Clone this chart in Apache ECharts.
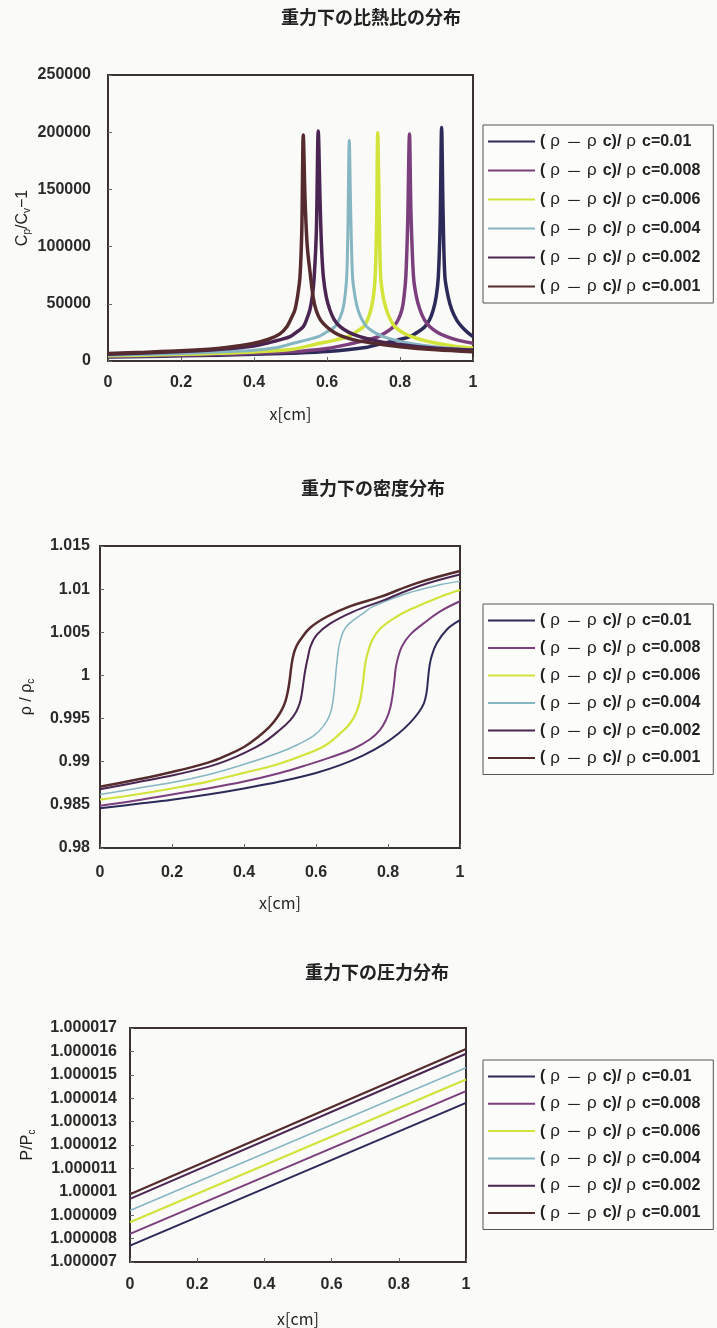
<!DOCTYPE html>
<html>
<head>
<meta charset="utf-8">
<script src="https://cdn.jsdelivr.net/npm/echarts/dist/echarts.min.js"></script>
<style>
  html, body { margin: 0; padding: 0; background: #fafaf8; }
  #chart { width: 717px; height: 1328px; }
</style>
</head>
<body>
<div id="chart"></div>
<script>
// Series labels, one per density offset
const legendNames = [
  '(ρ－ρc)/ρc=0.01',
  '(ρ－ρc)/ρc=0.008',
  '(ρ－ρc)/ρc=0.006',
  '(ρ－ρc)/ρc=0.004',
  '(ρ－ρc)/ρc=0.002',
  '(ρ－ρc)/ρc=0.001'
];

const chartTitles = ['重力下の比熱比の分布', '重力下の密度分布', '重力下の圧力分布'];

// Cp/Cv - 1 along the cell height, [x(cm), value]
const heat010 = [[0,3600],[0.1,4000],[0.2,4500],[0.3,5100],[0.4,5800],[0.5,6800],[0.6,8200],[0.7,11500],[0.754,15500],[0.795,18500],[0.827,21300],[0.85,25500],[0.868,30000],[0.881,36000],[0.891,44600],[0.899,56000],[0.905,73700],[0.91,120000],[0.914,204000],[0.918,130000],[0.923,73700],[0.932,56000],[0.942,44600],[0.955,36000],[0.969,30000],[0.985,25000],[1,21300]];
const heat008 = [[0,4000],[0.1,4500],[0.2,5100],[0.3,5800],[0.4,6700],[0.5,8000],[0.6,11000],[0.672,15500],[0.71,18500],[0.741,21300],[0.764,25500],[0.782,30000],[0.795,36000],[0.805,44600],[0.811,56000],[0.816,73700],[0.821,120000],[0.826,198400],[0.83,130000],[0.837,73700],[0.845,56000],[0.855,44600],[0.867,36000],[0.882,30000],[0.903,25000],[0.928,21300],[0.96,18000],[1,15500]];
const heat006 = [[0,4500],[0.1,5100],[0.2,5800],[0.3,6700],[0.4,7900],[0.5,10000],[0.581,15500],[0.625,18500],[0.658,21300],[0.68,25500],[0.7,30000],[0.711,36000],[0.72,44600],[0.727,56000],[0.732,73700],[0.736,120000],[0.739,199500],[0.743,130000],[0.747,73700],[0.754,56000],[0.763,44600],[0.774,36000],[0.786,30000],[0.807,25000],[0.832,21300],[0.865,18000],[0.9,15500],[0.95,13000],[1,11300]];
const heat004 = [[0,5000],[0.1,5700],[0.2,6600],[0.3,7800],[0.4,9500],[0.46,11500],[0.507,15500],[0.545,18500],[0.576,21300],[0.6,25500],[0.622,30000],[0.633,36000],[0.643,44600],[0.649,56000],[0.654,73700],[0.657,110000],[0.661,193000],[0.665,130000],[0.67,73700],[0.677,56000],[0.685,44600],[0.696,36000],[0.709,30000],[0.73,25000],[0.754,21300],[0.79,18000],[0.827,15500],[0.9,12200],[1,9600]];
const heat002 = [[0,6000],[0.1,7000],[0.2,8200],[0.3,10000],[0.4,13200],[0.435,15500],[0.47,18500],[0.499,21300],[0.52,26000],[0.535,30000],[0.545,37000],[0.553,44600],[0.56,57000],[0.565,73700],[0.571,115000],[0.576,201000],[0.581,140000],[0.585,100000],[0.59,73700],[0.598,56000],[0.608,44600],[0.62,36000],[0.636,30000],[0.66,25000],[0.69,21300],[0.73,18000],[0.772,15500],[0.85,12500],[0.92,10800],[1,9600]];
const heat001 = [[0,6500],[0.1,7600],[0.2,8900],[0.3,11000],[0.35,12800],[0.4,15500],[0.44,19000],[0.47,23500],[0.49,30000],[0.503,38000],[0.512,44600],[0.52,58000],[0.526,73700],[0.531,115000],[0.535,197500],[0.54,140000],[0.546,100000],[0.555,73700],[0.562,56000],[0.57,44600],[0.582,36000],[0.599,30000],[0.62,25000],[0.644,21300],[0.68,18000],[0.726,15500],[0.8,12500],[0.9,9800],[1,8100]];

// rho / rho_c along the cell height
const dens010 = [[0,0.9846],[0.1,0.9851],[0.2,0.9856],[0.3,0.9862],[0.4,0.9869],[0.5,0.9877],[0.6,0.9887],[0.667,0.9896],[0.73,0.9907],[0.787,0.992],[0.83,0.9933],[0.861,0.9945],[0.885,0.9957],[0.9,0.9968],[0.907,0.998],[0.911,0.9995],[0.915,1.001],[0.921,1.0022],[0.935,1.0037],[0.963,1.0053],[1,1.0064]];
const dens008 = [[0,0.9849],[0.1,0.9855],[0.2,0.9862],[0.3,0.9869],[0.4,0.9877],[0.5,0.9887],[0.574,0.9896],[0.64,0.9905],[0.704,0.9915],[0.75,0.9926],[0.778,0.9937],[0.795,0.9949],[0.806,0.9962],[0.813,0.9978],[0.818,0.9995],[0.823,1.0012],[0.838,1.0033],[0.861,1.0047],[0.898,1.006],[0.944,1.0074],[1,1.0086]];
const dens006 = [[0,0.9856],[0.1,0.9862],[0.2,0.9869],[0.3,0.9877],[0.4,0.9887],[0.5,0.9898],[0.58,0.991],[0.63,0.992],[0.665,0.9932],[0.694,0.9944],[0.712,0.9957],[0.723,0.9972],[0.73,0.999],[0.735,1.0008],[0.741,1.0022],[0.755,1.004],[0.778,1.0054],[0.824,1.0068],[0.87,1.0078],[0.944,1.0091],[1,1.0099]];
const dens004 = [[0,0.9862],[0.1,0.9869],[0.2,0.9876],[0.3,0.9885],[0.4,0.9897],[0.5,0.9911],[0.55,0.992],[0.593,0.993],[0.62,0.9941],[0.639,0.9955],[0.648,0.9973],[0.653,0.9993],[0.658,1.0015],[0.667,1.004],[0.685,1.0057],[0.731,1.0072],[0.759,1.008],[0.852,1.0095],[0.944,1.0105],[1,1.0109]];
const dens002 = [[0,0.9868],[0.1,0.9876],[0.2,0.9884],[0.3,0.9894],[0.35,0.9901],[0.4,0.991],[0.45,0.9921],[0.5,0.9937],[0.528,0.9948],[0.545,0.9958],[0.555,0.9968],[0.561,0.998],[0.566,0.9995],[0.571,1.0008],[0.577,1.002],[0.585,1.0034],[0.602,1.0047],[0.639,1.006],[0.704,1.0074],[0.787,1.0087],[0.889,1.0104],[1,1.0117]];
const dens001 = [[0,0.9871],[0.1,0.9879],[0.2,0.9888],[0.3,0.9899],[0.35,0.9907],[0.4,0.9917],[0.44,0.9929],[0.47,0.994],[0.49,0.995],[0.505,0.996],[0.515,0.997],[0.522,0.9982],[0.527,0.9995],[0.532,1.0012],[0.538,1.0025],[0.546,1.0034],[0.556,1.0041],[0.583,1.0055],[0.63,1.0068],[0.694,1.008],[0.778,1.0091],[0.88,1.0107],[1,1.0121]];

// P / P_c along the cell height
const pres010 = [[0,1.0000077],[1,1.0000138]];
const pres008 = [[0,1.0000082],[1,1.0000143]];
const pres006 = [[0,1.0000087],[1,1.0000148]];
const pres004 = [[0,1.0000092],[1,1.0000153]];
const pres002 = [[0,1.0000097],[1,1.0000159]];
const pres001 = [[0,1.0000099],[1,1.0000161]];

const lineColors = ['#2c2a58', '#7b3f7d', '#d2e33a', '#86b6c2', '#4a2552', '#552b2d'];

const chart = echarts.init(document.getElementById('chart'), null, { renderer: 'canvas' });

const frameColor = '#3a3232';
const labelFont = '"Liberation Sans", Arial, sans-serif';
const cjkFont = '"Noto Sans CJK JP", sans-serif';

function makeSeries(sets, gi, widths, smooth) {
  return sets.map((d, i) => ({
    type: 'line',
    name: legendNames[i],
    xAxisIndex: gi,
    yAxisIndex: gi,
    data: d,
    symbol: 'none',
    smooth: smooth,
    lineStyle: { color: lineColors[i], width: widths[i] },
    itemStyle: { color: lineColors[i] },
    z: 2 + i
  }));
}

function xAxisFor(gi, nameGap, labelMargin) {
  return {
    type: 'value', gridIndex: gi, min: 0, max: 1, interval: 0.2,
    name: 'x[cm]', nameLocation: 'middle', nameGap: nameGap, nameMoveOverlap: false,
    nameTextStyle: { fontFamily: cjkFont, fontSize: 16, color: '#222' },
    axisLine: { show: false },
    axisTick: { show: true, inside: true, length: 4, lineStyle: { color: '#666', width: 1 } },
    splitLine: { show: false },
    axisLabel: { margin: labelMargin, fontFamily: labelFont, fontWeight: 'bold', fontSize: 16, color: '#2a2a2a' }
  };
}

const subRich = {
  n: { fontFamily: labelFont, fontSize: 16, color: '#222' },
  s: { fontFamily: labelFont, fontSize: 10, color: '#222', padding: [8, 0, 0, 0] }
};

function yAxisFor(gi, min, max, interval, name, nameGap, labelMargin, fmt) {
  return {
    type: 'value', gridIndex: gi, min: min, max: max, interval: interval,
    name: name, nameLocation: 'middle', nameGap: nameGap, nameMoveOverlap: false,
    nameTextStyle: { fontFamily: labelFont, fontSize: 16, color: '#222', rich: subRich },
    axisLine: { show: false },
    axisTick: { show: true, inside: true, length: 4, lineStyle: { color: '#666', width: 1 } },
    splitLine: { show: false },
    axisLabel: { margin: labelMargin, fontFamily: labelFont, fontWeight: 'bold', fontSize: 16, color: '#2a2a2a', formatter: fmt }
  };
}

function legendFor(top, gap) {
  return {
    orient: 'vertical', left: 483, top: top,
    data: legendNames,
    icon: 'rect', itemWidth: 47, itemHeight: 2, itemGap: gap,
    padding: [8, 13, 8, 5],
    borderColor: '#555', borderWidth: 1, backgroundColor: '#fcfcfb',
    selectedMode: false,
    formatter: n => n.replace(/ρ/g, '{r|ρ}').replace('－', '{m|－}'),
    textStyle: {
      fontFamily: labelFont, fontWeight: 'bold', fontSize: 16, lineHeight: 16, color: '#222',
      rich: {
        r: { fontFamily: labelFont, fontWeight: 'normal', fontSize: 17, lineHeight: 16, padding: [0, 6, 0, 5] },
        m: { fontFamily: cjkFont, fontWeight: 'normal', fontSize: 16, lineHeight: 16 }
      }
    }
  };
}

const gridBase = { show: true, borderColor: frameColor, borderWidth: 2, backgroundColor: 'transparent', containLabel: false };

chart.setOption({
  animation: false,
  backgroundColor: '#fafaf8',
  title: [
    { text: chartTitles[0], left: 371, top: 8, textAlign: 'center', padding: 0, textStyle: { fontFamily: cjkFont, fontWeight: 'bold', fontSize: 18, color: '#222' } },
    { text: chartTitles[1], left: 373, top: 479, textAlign: 'center', padding: 0, textStyle: { fontFamily: cjkFont, fontWeight: 'bold', fontSize: 18, color: '#222' } },
    { text: chartTitles[2], left: 377, top: 963, textAlign: 'center', padding: 0, textStyle: { fontFamily: cjkFont, fontWeight: 'bold', fontSize: 18, color: '#222' } }
  ],
  legend: [legendFor(125, 12), legendFor(604, 10.5), legendFor(1060, 10.3)],
  grid: [
    Object.assign({ left: 108, top: 75, width: 365, height: 286 }, gridBase),
    Object.assign({ left: 100, top: 546, width: 360, height: 302 }, gridBase),
    Object.assign({ left: 130, top: 1028, width: 336, height: 239 }, gridBase)
  ],
  xAxis: [xAxisFor(0, 45, 14), xAxisFor(1, 47, 17), xAxisFor(2, 49, 15)],
  yAxis: [
    yAxisFor(0, 0, 250000, 50000, '{n|C}{s|p}{n|/C}{s|v}{n|−1}', 76, 17, v => String(v)),
    yAxisFor(1, 0.98, 1.015, 0.005, '{n|ρ / ρ}{s|c}', 64, 10),
    yAxisFor(2, 1.000007, 1.000017, 0.000001, '{n|P/P}{s|c}', 93, 13)
  ],
  series: [].concat(
    makeSeries([heat010, heat008, heat006, heat004, heat002, heat001], 0, [3.5, 3.5, 3.5, 3, 3.5, 3.5], 0.3),
    makeSeries([dens010, dens008, dens006, dens004, dens002, dens001], 1, [2, 2, 2.2, 1.5, 2, 2.5], 0.4),
    makeSeries([pres010, pres008, pres006, pres004, pres002, pres001], 2, [2, 2, 2.2, 1.5, 2, 2.2], false)
  )
});
</script>
</body>
</html>
